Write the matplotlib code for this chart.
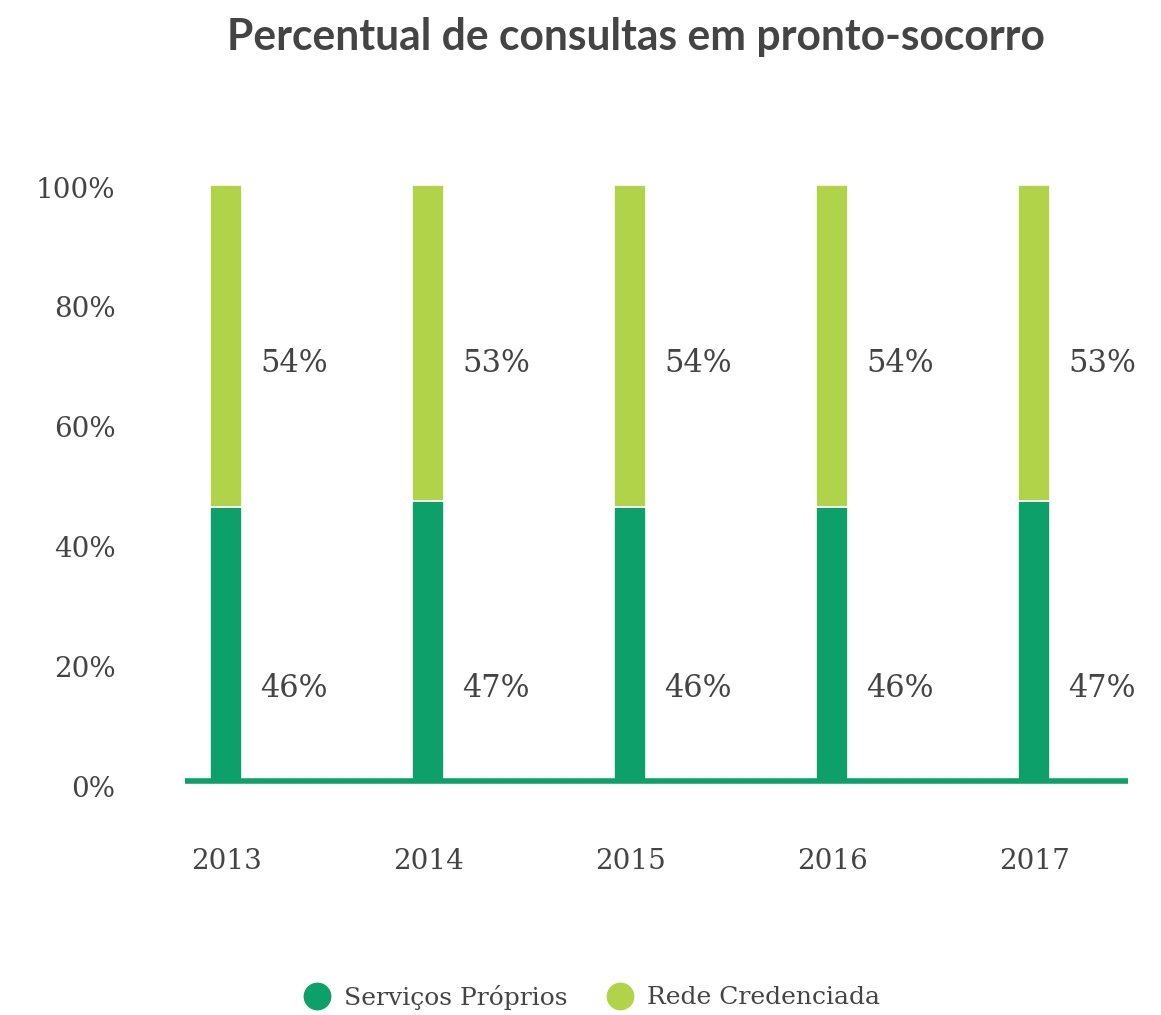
import matplotlib.pyplot as plt
from matplotlib.lines import Line2D

years = ["2013", "2014", "2015", "2016", "2017"]
proprios = [46, 47, 46, 46, 47]
credenciada = [54, 53, 54, 54, 53]
y_ticks = [0, 20, 40, 60, 80, 100]

dark_green = "#0ea06a"
light_green = "#b1d34a"
text_color = "#444444"

W, H = 1161, 1015
fig = plt.figure(figsize=(W / 100, H / 100), dpi=100)
ax = fig.add_axes([185 / W, 1 - 781 / H, (1128 - 185) / W, (781 - 185) / H])

x = list(range(len(years)))
ax.bar(x, proprios, width=0.158, color=dark_green, edgecolor="white", linewidth=1.2)
ax.bar(x, credenciada, bottom=proprios, width=0.158, color=light_green,
       edgecolor="white", linewidth=1.2)

for i in x:
    ax.text(i + 0.17, 15.5, f"{proprios[i]}%", fontsize=22, color=text_color,
            family="DejaVu Serif", va="center", ha="left")
    ax.text(i + 0.17, 70, f"{credenciada[i]}%", fontsize=22, color=text_color,
            family="DejaVu Serif", va="center", ha="left")

ax.axhline(0, color=dark_green, linewidth=4, zorder=5, clip_on=False,
           solid_capstyle="butt")

ax.set_xlim(-0.203, 4.465)
ax.set_ylim(0, 100)
ax.set_yticks([])
for v in y_ticks:
    ax.annotate(f"{v}%", xy=(0, v), xycoords=("axes fraction", "data"),
                xytext=(-50, -3.6 - 2.5 * (100 - v) / 100), textcoords="offset points",
                ha="right", va="center", fontsize=20, color=text_color,
                family="DejaVu Serif", annotation_clip=False)
ax.set_xticks(x)
ax.set_xticklabels(years)
ax.tick_params(length=0, labelsize=20, labelcolor=text_color)
ax.tick_params(axis="x", pad=48)
for lbl in ax.get_xticklabels():
    lbl.set_family("DejaVu Serif")
for s in ax.spines.values():
    s.set_visible(False)

fig.text(636 / W, 1 - 37 / H, "Percentual de consultas em pronto-socorro",
         fontsize=30.7, fontweight="bold", family="Lato", color=text_color,
         ha="center", va="center")

handles = [
    Line2D([], [], marker="o", linestyle="", markersize=19, color=dark_green),
    Line2D([], [], marker="o", linestyle="", markersize=19, color=light_green),
]
fig.legend(handles, ["Serviços Próprios", "Rede Credenciada"], loc="center",
           bbox_to_anchor=(591 / W, 1 - 997 / H), ncol=2, frameon=False,
           prop={"family": "DejaVu Serif", "size": 18}, labelcolor=text_color,
           handletextpad=0.48, columnspacing=1.5, handlelength=1.2)

fig.savefig("out.png", dpi=100)
